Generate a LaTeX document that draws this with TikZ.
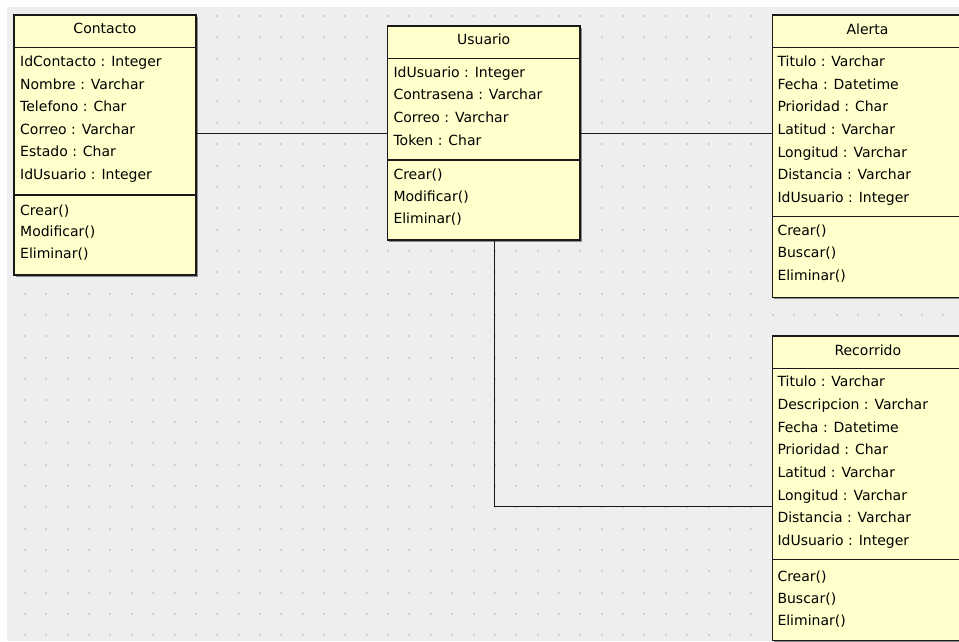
\documentclass[tikz,border=0pt]{standalone}
\usepackage{fontspec}
\setmainfont{DejaVu Sans}
\definecolor{canvas}{RGB}{238,238,238}
\definecolor{classfill}{RGB}{255,255,204}
\definecolor{griddot}{RGB}{208,208,208}
\definecolor{edge}{RGB}{25,25,25}
\tikzset{
  classbox/.style={draw=edge, line width=1.5pt, fill=classfill, rectangle,
    inner sep=0pt, outer sep=0pt, anchor=north west},
  shadowbox/.style={fill=black!45, rectangle, inner sep=0pt, outer sep=0pt, anchor=north west},
  member/.style={anchor=base west, inner sep=0pt, font=\fontsize{14}{16}\selectfont, text=black},
  title/.style={anchor=base, inner sep=0pt, font=\fontsize{14}{16}\selectfont, text=black},
  divider/.style={draw=edge, line width=1.5pt},
  link/.style={draw=edge, line width=1.5pt},
}
\begin{document}
\begin{tikzpicture}[x=1pt,y=-1pt]
\useasboundingbox (0,0) rectangle (959,641);
\fill[white] (0,0) rectangle (959,641);
\fill[canvas] (7,7) rectangle (959,641);
% dotted grid
\foreach \i in {0,...,44}
  \foreach \j in {0,...,29}
    \fill[griddot] ({24+21.36*\i},{15+21.36*\j}) rectangle +(2,2);

% ---- Contacto ----
\node[shadowbox, minimum width=182pt, minimum height=260pt] (contacto-sh) at (15.5,16.5) {};
\node[classbox, minimum width=182pt, minimum height=260pt] (contacto) at (14,15) {};
\draw[divider] (contacto.west |- 0,47.7) -- (contacto.east |- 0,47.7);
\draw[divider] (contacto.west |- 0,195) -- (contacto.east |- 0,195);
\node[title] (contacto-t) at (105,33) {Contacto};
\foreach \t [count=\k from 0] in {{IdContacto : Integer},{Nombre : Varchar},{Telefono : Char},{Correo : Varchar},{Estado : Char},{IdUsuario : Integer}}
  \node[member] (contacto-a\k) at (20,{66.7+22.5*\k}) {\t};
\foreach \t [count=\k from 0] in {{Crear()},{Modificar()},{Eliminar()}}
  \node[member] (contacto-m\k) at (20,{215+21.7*\k}) {\t};

% ---- Usuario ----
\node[shadowbox, minimum width=192.7pt, minimum height=214pt] (usuario-sh) at (388.8,27.5) {};
\node[classbox, minimum width=192.7pt, minimum height=214pt] (usuario) at (387.3,26) {};
\draw[divider] (usuario.west |- 0,58.3) -- (usuario.east |- 0,58.3);
\draw[divider] (usuario.west |- 0,160) -- (usuario.east |- 0,160);
\node[title] (usuario-t) at (483.7,44) {Usuario};
\foreach \t [count=\k from 0] in {{IdUsuario : Integer},{Contrasena : Varchar},{Correo : Varchar},{Token : Char}}
  \node[member] (usuario-a\k) at (393.3,{77.3+22.6*\k}) {\t};
\foreach \t [count=\k from 0] in {{Crear()},{Modificar()},{Eliminar()}}
  \node[member] (usuario-m\k) at (393.3,{179.3+22*\k}) {\t};

% ---- Alerta ----
\node[shadowbox, minimum width=190pt, minimum height=282.7pt] (alerta-sh) at (773.8,16.5) {};
\node[classbox, minimum width=190pt, minimum height=282.7pt] (alerta) at (772.3,15) {};
\draw[divider] (alerta.west |- 0,47.3) -- (alerta.east |- 0,47.3);
\draw[divider] (alerta.west |- 0,216.7) -- (alerta.east |- 0,216.7);
\node[title] (alerta-t) at (867.5,34.3) {Alerta};
\foreach \t [count=\k from 0] in {{Titulo : Varchar},{Fecha : Datetime},{Prioridad : Char},{Latitud : Varchar},{Longitud : Varchar},{Distancia : Varchar},{IdUsuario : Integer}}
  \node[member] (alerta-a\k) at (777.3,{66.7+22.6*\k}) {\t};
\foreach \t [count=\k from 0] in {{Crear()},{Buscar()},{Eliminar()}}
  \node[member] (alerta-m\k) at (777.3,{235+22.5*\k}) {\t};

% ---- Recorrido ----
\node[shadowbox, minimum width=190pt, minimum height=304.5pt] (recorrido-sh) at (773.8,337.5) {};
\node[classbox, minimum width=190pt, minimum height=304.5pt] (recorrido) at (772.3,336) {};
\draw[divider] (recorrido.west |- 0,368.3) -- (recorrido.east |- 0,368.3);
\draw[divider] (recorrido.west |- 0,559.3) -- (recorrido.east |- 0,559.3);
\node[title] (recorrido-t) at (867.8,355) {Recorrido};
\foreach \t [count=\k from 0] in {{Titulo : Varchar},{Descripcion : Varchar},{Fecha : Datetime},{Prioridad : Char},{Latitud : Varchar},{Longitud : Varchar},{Distancia : Varchar},{IdUsuario : Integer}}
  \node[member] (recorrido-a\k) at (777.3,{386.7+22.66*\k}) {\t};
\foreach \t [count=\k from 0] in {{Crear()},{Buscar()},{Eliminar()}}
  \node[member] (recorrido-m\k) at (777.3,{581+22*\k}) {\t};

% ---- associations ----
\coordinate (row1) at (0,133.3);
\coordinate (bend) at (494.3,506.7);
\draw[link] (contacto.east |- row1) -- (usuario.west |- row1);
\draw[link] (usuario.east |- row1) -- (alerta.west |- row1);
\draw[link] (usuario.south -| bend) -- (bend) -- (recorrido.west |- bend);
\end{tikzpicture}
\end{document}
